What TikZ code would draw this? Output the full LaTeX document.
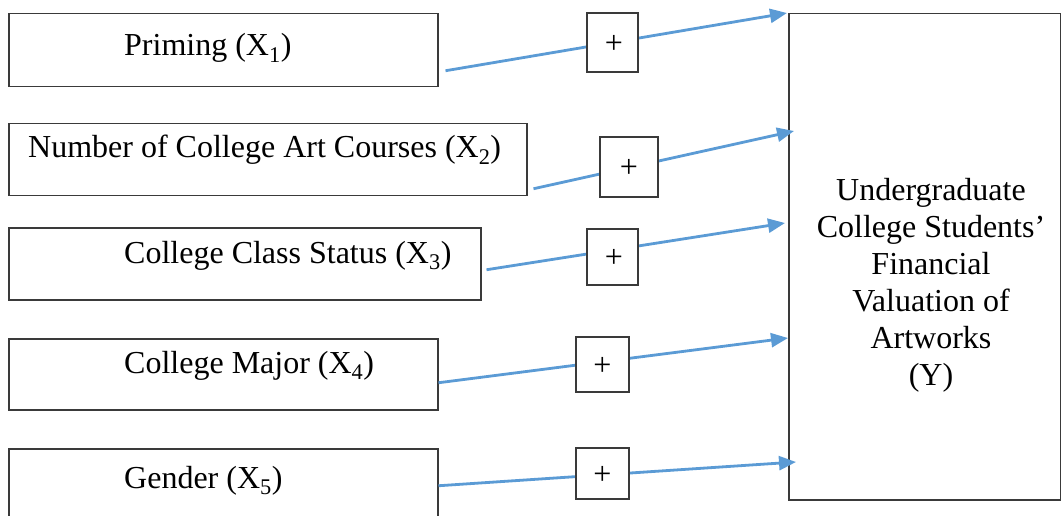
\documentclass[tikz,border=0pt]{standalone}
\usepackage{fontspec}
\setmainfont{Liberation Serif}
\usetikzlibrary{arrows.meta,calc}
\definecolor{arrowblue}{HTML}{5B9BD5}
\definecolor{boxline}{HTML}{3A3A3A}
\tikzset{
  varbox/.style={draw=boxline, line width=1.5pt, rectangle, inner sep=0pt, anchor=north west},
  plusbox/.style={draw=boxline, fill=white, line width=1.5pt, rectangle, inner sep=0pt, text depth=0pt, font=\fontsize{32}{37}\selectfont},
  lbl/.style={inner sep=0pt, anchor=base west, font=\fontsize{32}{37}\selectfont},
  conn/.style={draw=arrowblue, line width=2.8pt, -{Triangle[length=17pt,width=14pt]}}
}
\begin{document}
\begin{tikzpicture}[x=1pt,y=-1pt]
\useasboundingbox (0,0) rectangle (1061,516);
% variable boxes
\node[varbox, minimum width=429pt, minimum height=73pt] (b1) at (8,13) {};
\node[varbox, minimum width=518pt, minimum height=72pt] (b2) at (8,123) {};
\node[varbox, minimum width=472pt, minimum height=72pt] (b3) at (8,227) {};
\node[varbox, minimum width=429pt, minimum height=71pt] (b4) at (8,338) {};
\node[varbox, minimum width=429pt, minimum height=82pt] (b5) at (8,448) {};
\node[varbox, minimum width=272pt, minimum height=486pt] (Y) at (788,13) {};
% labels
\node[lbl] (l1) at (124,56) {Priming (X\textsubscript{1})};
\node[lbl] (l2) at (28,158) {Number of College Art Courses (X\textsubscript{2})};
\node[lbl] (l3) at (124,263) {College Class Status (X\textsubscript{3})};
\node[lbl] (l4) at (124,373) {College Major (X\textsubscript{4})};
\node[lbl] (l5) at (124,488) {Gender (X\textsubscript{5})};
\node[inner sep=0pt, anchor=north, align=center, font=\fontsize{32}{37}\selectfont] (ly) at (931,178)
  {Undergraduate\\College Students’\\Financial\\Valuation of\\Artworks\\(Y)};
% connectors
\draw[conn] ($(b1.east)+(7,20.5)$) -- ($(Y.north west)+(-1,0)$);
\draw[conn] ($(b2.east)+(6,29)$) -- ($(Y.north west)+(6,118)$);
\draw[conn] ($(b3.east)+(5,6)$) -- ($(Y.north west)+(-3,210)$);
\draw[conn] ($(b4.east)+(0,8.5)$) -- ($(Y.north west)+(0,325)$);
\draw[conn] ($(b5.east)+(0,-4)$) -- ($(Y.north west)+(8,449)$);
% plus boxes
\node[plusbox, minimum width=51pt, minimum height=59pt] (p1) at (612.5,42.5) {\raisebox{-3pt}{\hspace{3pt}+}};
\node[plusbox, minimum width=58pt, minimum height=60pt] (p2) at (629,167) {\raisebox{-3pt}{+}};
\node[plusbox, minimum width=51pt, minimum height=56pt] (p3) at (612.5,257) {\raisebox{-3pt}{\hspace{3pt}+}};
\node[plusbox, minimum width=53pt, minimum height=55pt] (p4) at (602.5,364.5) {\raisebox{-3pt}{+}};
\node[plusbox, minimum width=53pt, minimum height=51pt] (p5) at (602.5,473.5) {\raisebox{-3pt}{+}};
\end{tikzpicture}
\end{document}
